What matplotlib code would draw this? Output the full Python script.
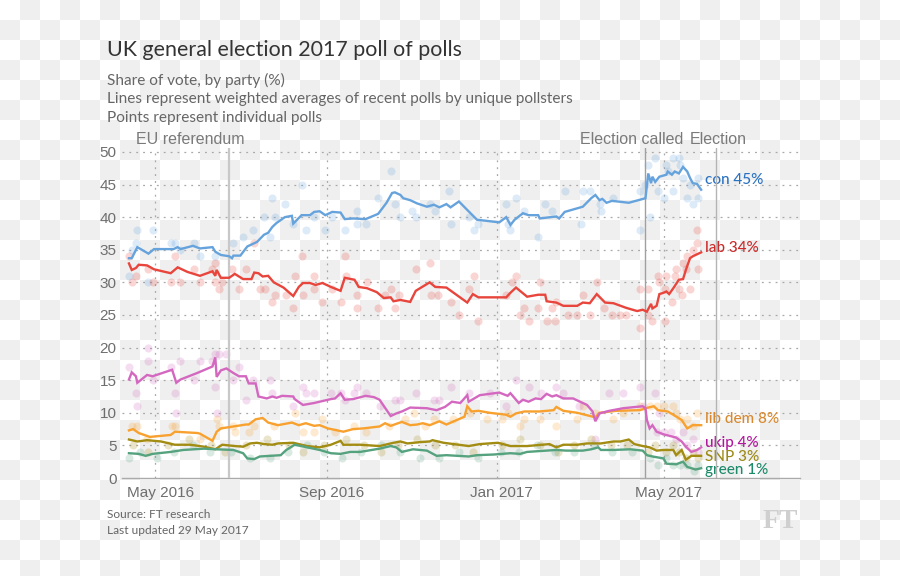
import numpy as np
import pandas as pd
import matplotlib
matplotlib.use("Agg")
import matplotlib.pyplot as plt
import matplotlib.transforms as mtransforms

# --- 数据: 加权平均线 (日期, 支持率 %) ---
con_dates = ["2016-04-12", "2016-04-14", "2016-04-18", "2016-04-26", "2016-04-30", "2016-05-14", "2016-05-17",
             "2016-05-19", "2016-05-28", "2016-06-02", "2016-06-11", "2016-06-13", "2016-06-17", "2016-06-23",
             "2016-06-25", "2016-06-26", "2016-07-01", "2016-07-06", "2016-07-13", "2016-07-18", "2016-07-21",
             "2016-07-24", "2016-07-27", "2016-08-02", "2016-08-07", "2016-08-08", "2016-08-14", "2016-08-20",
             "2016-08-23", "2016-08-27", "2016-08-31", "2016-09-05", "2016-09-11", "2016-09-14", "2016-09-20",
             "2016-09-29", "2016-10-08", "2016-10-14", "2016-10-18", "2016-10-20", "2016-10-24", "2016-10-26",
             "2016-10-31", "2016-11-05", "2016-11-12", "2016-11-17", "2016-11-21", "2016-11-26", "2016-11-29",
             "2016-12-05", "2016-12-11", "2016-12-18", "2017-01-03", "2017-01-08", "2017-01-11", "2017-01-14",
             "2017-01-20", "2017-01-24", "2017-01-31", "2017-02-01", "2017-02-13", "2017-02-15", "2017-02-19",
             "2017-03-04", "2017-03-10", "2017-03-13", "2017-03-16", "2017-03-18", "2017-03-21", "2017-03-25",
             "2017-04-06", "2017-04-18", "2017-04-20", "2017-04-22", "2017-04-23", "2017-04-25", "2017-04-28",
             "2017-05-03", "2017-05-04", "2017-05-07", "2017-05-09", "2017-05-12", "2017-05-15", "2017-05-18",
             "2017-05-20", "2017-05-22", "2017-05-25", "2017-05-28"]
con_avg = [33.7, 33.7, 35.4, 34.4, 35.1, 35.1, 35.4, 35.1, 35.6, 35.2, 35.4, 34.7, 34.2, 34.0, 33.7, 34.1, 34.1,
           35.5, 36.2, 37.3, 37.6, 38.5, 39.1, 40.0, 40.2, 39.0, 40.3, 40.3, 40.8, 40.9, 40.3, 40.8, 40.7, 39.7,
           39.8, 39.7, 40.5, 42.2, 43.7, 43.8, 43.4, 42.9, 42.6, 42.1, 41.6, 41.9, 41.5, 42.0, 41.5, 42.4, 41.1,
           39.6, 39.2, 40.0, 38.8, 39.6, 40.6, 40.3, 40.3, 39.8, 40.1, 39.8, 40.8, 41.6, 42.9, 43.4, 42.6, 42.8,
           42.2, 42.5, 42.2, 42.9, 46.7, 45.2, 46.2, 45.4, 46.2, 46.5, 47.0, 46.5, 47.0, 46.7, 47.7, 47.0, 46.0,
           45.2, 45.1, 44.2]

lab_dates = ["2016-04-12", "2016-04-14", "2016-04-17", "2016-04-19", "2016-04-25", "2016-04-30", "2016-05-12",
             "2016-05-17", "2016-05-24", "2016-06-02", "2016-06-11", "2016-06-13", "2016-06-14", "2016-06-17",
             "2016-06-23", "2016-06-27", "2016-07-03", "2016-07-09", "2016-07-11", "2016-07-14", "2016-07-17",
             "2016-07-21", "2016-07-25", "2016-08-01", "2016-08-08", "2016-08-12", "2016-08-15", "2016-08-20",
             "2016-08-24", "2016-08-29", "2016-09-04", "2016-09-11", "2016-09-14", "2016-09-21", "2016-09-24",
             "2016-09-30", "2016-10-07", "2016-10-12", "2016-10-17", "2016-10-19", "2016-10-24", "2016-10-31",
             "2016-11-04", "2016-11-14", "2016-11-18", "2016-11-26", "2016-12-11", "2016-12-15", "2016-12-19",
             "2017-01-08", "2017-01-11", "2017-01-15", "2017-01-23", "2017-01-31", "2017-02-05", "2017-02-06",
             "2017-02-13", "2017-02-18", "2017-02-28", "2017-03-04", "2017-03-09", "2017-03-14", "2017-03-20",
             "2017-03-26", "2017-04-04", "2017-04-12", "2017-04-16", "2017-04-19", "2017-04-22", "2017-04-23",
             "2017-04-26", "2017-04-28", "2017-05-01", "2017-05-03", "2017-05-05", "2017-05-08", "2017-05-12",
             "2017-05-15", "2017-05-17", "2017-05-20", "2017-05-22", "2017-05-28"]
lab_avg = [32.9, 31.9, 32.2, 32.7, 32.6, 32.0, 31.4, 32.3, 31.6, 31.0, 31.7, 31.0, 31.9, 30.7, 30.7, 31.3, 30.5,
           30.5, 31.5, 31.4, 30.9, 31.0, 30.0, 29.2, 27.9, 29.3, 29.9, 29.9, 29.6, 29.9, 29.3, 28.7, 30.7, 30.4,
           29.3, 29.1, 28.5, 27.6, 27.7, 27.1, 27.3, 27.0, 28.7, 30.0, 29.3, 29.2, 26.9, 28.2, 27.7, 27.7, 28.4,
           29.2, 27.8, 28.1, 28.1, 27.1, 26.9, 26.4, 26.4, 26.9, 26.8, 28.2, 26.9, 26.8, 26.1, 25.6, 25.8, 25.5,
           26.7, 26.0, 26.4, 28.2, 28.4, 28.6, 28.2, 29.1, 30.4, 30.5, 31.9, 33.7, 34.0, 34.6]

ukip_dates = ["2016-04-12", "2016-04-14", "2016-04-17", "2016-04-18", "2016-04-25", "2016-04-29", "2016-05-13",
              "2016-05-16", "2016-05-19", "2016-05-31", "2016-06-11", "2016-06-13", "2016-06-14", "2016-06-17",
              "2016-06-21", "2016-06-26", "2016-06-30", "2016-07-05", "2016-07-07", "2016-07-12", "2016-07-14",
              "2016-07-20", "2016-07-24", "2016-07-27", "2016-07-31", "2016-08-08", "2016-08-09", "2016-08-15",
              "2016-08-23", "2016-08-27", "2016-09-04", "2016-09-07", "2016-09-11", "2016-09-14", "2016-09-20",
              "2016-09-29", "2016-10-05", "2016-10-09", "2016-10-17", "2016-10-21", "2016-10-25", "2016-10-31",
              "2016-11-12", "2016-11-19", "2016-11-25", "2016-11-30", "2016-12-06", "2016-12-11", "2016-12-12",
              "2016-12-20", "2017-01-03", "2017-01-09", "2017-01-11", "2017-01-17", "2017-01-20", "2017-01-24",
              "2017-01-29", "2017-02-02", "2017-02-06", "2017-02-10", "2017-02-13", "2017-02-18", "2017-02-25",
              "2017-03-07", "2017-03-11", "2017-03-13", "2017-03-16", "2017-03-23", "2017-04-02", "2017-04-16",
              "2017-04-18", "2017-04-19", "2017-04-21", "2017-04-23", "2017-04-26", "2017-05-01", "2017-05-10",
              "2017-05-14", "2017-05-17", "2017-05-21", "2017-05-25", "2017-05-28"]
ukip_avg = [15.1, 16.2, 15.6, 14.6, 15.8, 15.6, 16.6, 14.6, 15.1, 16.1, 17.1, 18.5, 15.5, 16.5, 16.8, 16.1, 15.6,
            15.6, 14.5, 14.5, 12.5, 12.2, 12.5, 12.3, 12.6, 12.5, 12.1, 11.2, 11.5, 11.7, 12.1, 12.2, 13.0, 12.0,
            12.1, 12.6, 12.4, 12.0, 9.5, 9.9, 10.2, 10.8, 10.7, 10.4, 10.9, 11.7, 11.5, 12.7, 11.7, 12.7, 13.1,
            12.6, 13.0, 11.5, 12.0, 11.7, 12.2, 12.1, 12.9, 12.5, 12.7, 12.2, 12.2, 11.2, 10.2, 8.7, 9.9, 10.3,
            10.7, 11.0, 10.7, 8.9, 7.6, 8.1, 7.1, 6.7, 6.2, 5.6, 4.8, 4.0, 4.3, 4.7]

libdem_dates = ["2016-04-12", "2016-04-15", "2016-04-19", "2016-04-27", "2016-05-12", "2016-05-15", "2016-05-31",
                "2016-06-02", "2016-06-11", "2016-06-14", "2016-06-17", "2016-06-26", "2016-07-05", "2016-07-07",
                "2016-07-12", "2016-07-17", "2016-07-21", "2016-07-28", "2016-08-07", "2016-08-12", "2016-08-17",
                "2016-08-23", "2016-08-27", "2016-09-02", "2016-09-13", "2016-09-20", "2016-09-27", "2016-10-09",
                "2016-10-13", "2016-10-17", "2016-10-25", "2016-10-31", "2016-11-05", "2016-11-09", "2016-11-14",
                "2016-11-21", "2016-11-26", "2016-12-09", "2016-12-11", "2016-12-14", "2016-12-19", "2016-12-27",
                "2017-01-08", "2017-01-11", "2017-01-15", "2017-01-21", "2017-02-01", "2017-02-11", "2017-02-13",
                "2017-02-18", "2017-02-28", "2017-03-13", "2017-03-16", "2017-03-28", "2017-04-14", "2017-04-20",
                "2017-04-24", "2017-04-27", "2017-05-04", "2017-05-08", "2017-05-14", "2017-05-18", "2017-05-22",
                "2017-05-28"]
libdem_avg = [7.3, 7.5, 6.9, 6.3, 6.6, 7.1, 6.9, 6.8, 5.7, 7.1, 7.6, 7.9, 8.2, 8.2, 9.0, 9.2, 8.5, 8.1, 8.5, 8.1,
              8.4, 8.0, 8.1, 7.6, 7.1, 7.5, 7.6, 7.9, 8.4, 8.0, 8.6, 8.1, 8.2, 8.4, 8.1, 8.7, 8.2, 9.4, 11.0, 10.2,
              10.3, 10.0, 9.7, 9.4, 9.9, 10.2, 10.2, 10.4, 10.9, 10.3, 10.0, 9.3, 10.0, 10.3, 10.4, 10.8, 11.0,
              10.4, 10.2, 9.7, 8.9, 7.6, 8.1, 8.1]

snp_dates = ["2016-04-12", "2016-04-18", "2016-04-25", "2016-05-05", "2016-05-15", "2016-05-26", "2016-06-05",
             "2016-06-13", "2016-06-18", "2016-06-27", "2016-07-03", "2016-07-08", "2016-07-13", "2016-07-18",
             "2016-07-24", "2016-07-28", "2016-08-08", "2016-08-18", "2016-08-27", "2016-09-04", "2016-09-11",
             "2016-09-13", "2016-09-25", "2016-10-09", "2016-10-19", "2016-10-24", "2016-10-29", "2016-11-07",
             "2016-11-14", "2016-11-16", "2016-11-24", "2016-12-12", "2016-12-20", "2017-01-02", "2017-01-11",
             "2017-01-23", "2017-02-08", "2017-02-13", "2017-02-18", "2017-02-28", "2017-03-07", "2017-03-17",
             "2017-03-26", "2017-03-31", "2017-04-06", "2017-04-10", "2017-04-16", "2017-04-21", "2017-04-26",
             "2017-05-01", "2017-05-08", "2017-05-10", "2017-05-14", "2017-05-17", "2017-05-21", "2017-05-28"]
snp_avg = [5.9, 5.6, 5.8, 5.6, 5.1, 5.1, 4.8, 4.4, 5.1, 4.9, 4.8, 5.3, 5.4, 5.2, 5.1, 5.3, 5.4, 4.9, 4.7, 5.1,
           5.7, 5.1, 5.1, 4.9, 5.4, 5.6, 5.3, 5.5, 5.6, 5.8, 5.4, 4.9, 5.2, 5.4, 4.9, 4.9, 5.2, 4.7, 5.1, 5.1,
           5.3, 5.3, 5.6, 5.6, 5.9, 5.2, 4.9, 4.7, 4.2, 4.3, 4.3, 3.5, 4.3, 2.8, 3.4, 3.4]

green_dates = ["2016-04-12", "2016-04-19", "2016-04-24", "2016-04-29", "2016-05-12", "2016-05-21", "2016-06-05",
               "2016-06-14", "2016-06-26", "2016-07-03", "2016-07-06", "2016-07-11", "2016-07-15", "2016-07-30",
               "2016-08-03", "2016-08-09", "2016-08-18", "2016-08-27", "2016-09-04", "2016-09-11", "2016-09-18",
               "2016-09-25", "2016-10-09", "2016-10-17", "2016-10-21", "2016-10-25", "2016-11-02", "2016-11-07",
               "2016-11-12", "2016-11-19", "2016-11-26", "2016-12-12", "2016-12-18", "2016-12-30", "2017-01-11",
               "2017-01-18", "2017-01-23", "2017-02-06", "2017-02-13", "2017-02-20", "2017-03-04", "2017-03-10",
               "2017-03-15", "2017-03-17", "2017-03-26", "2017-04-07", "2017-04-16", "2017-04-19", "2017-04-23",
               "2017-05-01", "2017-05-03", "2017-05-10", "2017-05-15", "2017-05-18", "2017-05-24", "2017-05-28"]
green_avg = [3.8, 3.7, 3.4, 3.7, 4.0, 4.3, 4.5, 4.4, 4.3, 3.8, 3.0, 2.9, 3.3, 3.5, 4.3, 5.1, 4.7, 4.3, 3.8, 3.7,
             4.0, 4.0, 4.5, 4.9, 4.7, 4.0, 4.4, 4.3, 4.2, 3.4, 3.5, 3.3, 3.5, 3.6, 3.8, 3.7, 4.0, 4.2, 4.3, 4.2,
             4.2, 4.4, 4.7, 4.3, 4.3, 4.4, 4.2, 3.5, 3.3, 3.0, 2.2, 2.1, 2.5, 1.7, 1.3, 1.5]

# --- 数据: 单个民调 (点) ---
con_poll_dates = ["2016-04-12", "2016-04-14", "2016-04-18", "2016-04-17", "2016-04-29", "2016-04-26", "2016-05-12",
                  "2016-05-15", "2016-05-19", "2016-05-29", "2016-06-02", "2016-06-13", "2016-06-26", "2016-07-03",
                  "2016-07-10", "2016-07-18", "2016-07-22", "2016-07-24", "2016-07-26", "2016-08-02", "2016-08-08",
                  "2016-08-14", "2016-08-17", "2016-08-23", "2016-08-31", "2016-09-05", "2016-09-14", "2016-09-23",
                  "2016-09-23", "2016-09-29", "2016-10-08", "2016-10-17", "2016-10-20", "2016-10-24", "2016-11-01",
                  "2016-11-04", "2016-11-14", "2016-11-18", "2016-11-28", "2016-11-29", "2016-12-12", "2016-12-16",
                  "2016-12-19", "2017-01-08", "2017-01-09", "2017-01-11", "2017-01-15", "2017-01-21", "2017-01-31",
                  "2017-02-05", "2017-02-10", "2017-02-19", "2017-03-03", "2017-03-04", "2017-03-09", "2017-03-16",
                  "2017-03-17", "2017-03-26", "2017-04-14", "2017-04-14", "2017-04-18", "2017-04-20", "2017-04-21",
                  "2017-04-25", "2017-04-27", "2017-05-01", "2017-05-03", "2017-05-04", "2017-05-08", "2017-05-08",
                  "2017-05-12", "2017-05-13", "2017-05-15", "2017-05-18", "2017-05-20", "2017-05-22", "2017-05-26",
                  "2017-05-26"]
con_polls = [31, 35, 38, 36, 38, 30, 36, 36, 35, 36, 34, 34, 36, 37, 38, 40, 37, 43, 40, 42, 39, 45, 38, 40, 38,
             40, 38, 41, 39, 39, 43, 47, 42, 40, 41, 40, 42, 41, 44, 39, 40, 38, 39, 42, 39, 38, 43, 41, 37, 42,
             41, 44, 39, 44, 44, 42, 41, 43, 44, 38, 45, 48, 40, 49, 44, 43, 48, 47, 49, 44, 49, 48, 46, 43, 45,
             42, 43, 46]

lab_poll_dates = ["2016-04-12", "2016-04-14", "2016-04-17", "2016-04-26", "2016-04-29", "2016-05-12", "2016-05-15",
                  "2016-05-19", "2016-05-29", "2016-06-02", "2016-06-11", "2016-06-13", "2016-06-13", "2016-06-16",
                  "2016-06-18", "2016-06-25", "2016-06-30", "2016-07-05", "2016-07-11", "2016-07-15", "2016-07-19",
                  "2016-07-24", "2016-07-26", "2016-08-03", "2016-08-08", "2016-08-09", "2016-08-14", "2016-08-15",
                  "2016-08-23", "2016-08-23", "2016-08-29", "2016-09-05", "2016-09-11", "2016-09-14", "2016-09-15",
                  "2016-09-23", "2016-09-23", "2016-09-30", "2016-10-08", "2016-10-13", "2016-10-17", "2016-10-20",
                  "2016-10-23", "2016-11-04", "2016-11-14", "2016-11-15", "2016-11-20", "2016-11-29", "2016-12-05",
                  "2016-12-12", "2016-12-16", "2016-12-19", "2017-01-08", "2017-01-12", "2017-01-15", "2017-01-18",
                  "2017-01-21", "2017-01-24", "2017-01-31", "2017-02-01", "2017-02-06", "2017-02-10", "2017-02-12",
                  "2017-02-13", "2017-02-21", "2017-02-28", "2017-03-04", "2017-03-09", "2017-03-14", "2017-03-19",
                  "2017-03-25", "2017-03-31", "2017-04-04", "2017-04-14", "2017-04-14", "2017-04-20", "2017-04-20",
                  "2017-04-23", "2017-04-27", "2017-04-28", "2017-05-02", "2017-05-02", "2017-05-03", "2017-05-07",
                  "2017-05-09", "2017-05-10", "2017-05-12", "2017-05-14", "2017-05-15", "2017-05-17", "2017-05-18",
                  "2017-05-20", "2017-05-22", "2017-05-25", "2017-05-25", "2017-05-26"]
lab_polls = [34, 30, 31, 32, 30, 30, 34, 30, 32, 30, 32, 33, 30, 29, 30, 32, 29, 32, 36, 29, 29, 27, 28, 28, 26,
             31, 34, 28, 31, 29, 27, 29, 27, 34, 31, 28, 26, 30, 26, 28, 29, 26, 28, 32, 33, 28, 28, 27, 25, 29,
             31, 24, 28, 30, 31, 25, 26, 24, 26, 30, 24, 26, 24, 27, 25, 25, 28, 25, 30, 26, 25, 25, 25, 29, 23,
             29, 25, 24, 31, 30, 29, 24, 31, 27, 31, 32, 29, 28, 33, 32, 34, 29, 35, 36, 38, 32]

ukip_poll_dates = ["2016-04-12", "2016-04-18", "2016-04-17", "2016-04-26", "2016-04-26", "2016-04-29", "2016-05-12",
                   "2016-05-15", "2016-05-16", "2016-05-19", "2016-05-29", "2016-06-02", "2016-06-11", "2016-06-13",
                   "2016-06-13", "2016-06-14", "2016-06-16", "2016-06-21", "2016-06-26", "2016-06-30", "2016-07-05",
                   "2016-07-10", "2016-07-22", "2016-07-24", "2016-08-08", "2016-08-15", "2016-08-17", "2016-08-23",
                   "2016-09-04", "2016-09-11", "2016-09-14", "2016-09-21", "2016-09-23", "2016-09-29", "2016-10-09",
                   "2016-10-20", "2016-10-24", "2016-11-04", "2016-11-17", "2016-11-21", "2016-11-29", "2016-12-12",
                   "2016-12-27", "2017-01-08", "2017-01-15", "2017-01-24", "2017-02-02", "2017-02-13", "2017-02-18",
                   "2017-03-01", "2017-03-13", "2017-03-23", "2017-04-02", "2017-04-14", "2017-04-16", "2017-04-25",
                   "2017-04-28", "2017-04-26", "2017-05-01", "2017-05-06", "2017-05-10", "2017-05-15", "2017-05-18",
                   "2017-05-22", "2017-05-26"]
ukip_polls = [17, 11, 13, 18, 20, 15, 17, 13, 10, 18, 15, 18, 18, 19, 14, 10, 19, 19, 15, 17, 12, 15, 15, 13, 11,
              14, 13, 13, 13, 13, 12, 13, 14, 13, 11, 12, 12, 13, 12, 12, 14, 13, 13, 11, 15, 14, 13, 14, 13, 11,
              6, 13, 13, 14, 11, 13, 10, 7, 7, 7, 6, 7, 5, 6, 4]

libdem_poll_dates = ["2016-04-14", "2016-04-18", "2016-04-25", "2016-05-13", "2016-05-15", "2016-06-02", "2016-06-14",
                     "2016-06-16", "2016-06-26", "2016-06-27", "2016-07-07", "2016-07-11", "2016-07-25", "2016-08-09",
                     "2016-08-15", "2016-08-23", "2016-08-29", "2016-09-07", "2016-09-21", "2016-09-29", "2016-10-16",
                     "2016-10-27", "2016-11-03", "2016-11-11", "2016-11-17", "2016-12-01", "2016-12-13", "2016-12-25",
                     "2017-01-05", "2017-01-09", "2017-01-18", "2017-01-21", "2017-02-01", "2017-02-13", "2017-02-28",
                     "2017-03-04", "2017-03-13", "2017-03-26", "2017-04-02", "2017-04-14", "2017-04-21", "2017-04-26",
                     "2017-05-01", "2017-05-08", "2017-05-10", "2017-05-13", "2017-05-18", "2017-05-22", "2017-05-25"]
libdem_polls = [8, 8, 6, 8, 8, 6, 9, 8, 8, 7, 7, 8, 8, 10, 7, 7, 9, 7, 8, 7, 8, 9, 10, 8, 9, 9, 10, 9, 9, 10, 8, 9,
                9, 8, 9, 11, 10, 9, 10, 11, 11, 11, 11, 11, 10, 9, 9, 8, 10]

snp_poll_dates = ["2016-04-15", "2016-04-26", "2016-05-10", "2016-05-25", "2016-06-10", "2016-06-20", "2016-07-05",
                  "2016-07-20", "2016-08-05", "2016-08-15", "2016-08-30", "2016-09-15", "2016-09-28", "2016-10-10",
                  "2016-10-22", "2016-11-05", "2016-11-18", "2016-12-02", "2016-12-15", "2017-01-05", "2017-01-18",
                  "2017-02-01", "2017-02-14", "2017-02-26", "2017-03-10", "2017-03-24", "2017-04-05", "2017-04-20",
                  "2017-04-25", "2017-05-03", "2017-05-08", "2017-05-12", "2017-05-17", "2017-05-22", "2017-05-26"]
snp_polls = [5, 4, 5, 6, 5, 4, 5, 6, 5, 4, 5, 6, 5, 4, 5, 6, 5, 5, 4, 5, 6, 5, 4, 5, 6, 5, 5, 4, 5, 4, 5, 4, 3,
             4, 3]

green_poll_dates = ["2016-04-12", "2016-04-20", "2016-05-02", "2016-05-14", "2016-05-28", "2016-06-09", "2016-06-24",
                    "2016-07-08", "2016-07-22", "2016-08-04", "2016-08-18", "2016-08-30", "2016-09-12", "2016-09-26",
                    "2016-10-10", "2016-10-24", "2016-11-07", "2016-11-21", "2016-12-05", "2016-12-19", "2017-01-04",
                    "2017-01-17", "2017-01-30", "2017-02-12", "2017-02-26", "2017-03-12", "2017-03-25", "2017-04-08",
                    "2017-04-21", "2017-04-27", "2017-05-03", "2017-05-08", "2017-05-13", "2017-05-18", "2017-05-23",
                    "2017-05-26"]
green_polls = [3, 4, 3, 4, 5, 4, 4, 3, 3, 4, 5, 4, 3, 4, 5, 4, 3, 3, 4, 3, 4, 4, 5, 4, 4, 5, 4, 4, 3, 2, 3, 2, 2,
               2, 1, 2]

party_names = ["con", "lab", "lib dem", "ukip", "SNP", "green"]
latest_share = [45, 34, 8, 4, 3, 1]

events = ["EU referendum", "Election called", "Election"]
event_dates = ["2016-06-23", "2017-04-18", "2017-06-08"]

month_ticks = ["2016-05-01", "2016-09-01", "2017-01-01", "2017-05-01"]
month_labels = ["May 2016", "Sep 2016", "Jan 2017", "May 2017"]

# --- 样式 ---
line_colors = ["#66a3dd", "#e8453c", "#f8a12e", "#d468c0", "#a38c12", "#55a27e"]
label_colors = ["#2a72c2", "#cc2a2a", "#d8892f", "#b3169e", "#9c8a16", "#1d8a6a"]
label_y = [45.7, 35.3, 9.0, 5.4, 3.2, 1.3]          # 右侧标签的纵向位置 (避免重叠)
event_offsets = [-28, -10, 1]                        # 事件标签相对竖线的水平偏移 (pt)
event_colors = ["#c8c8c8", "#a0a0a0", "#b4b4b4"]
event_widths = [1.6, 1.0, 1.0]


def checkerboard(width, height, cell=20):
    # 参考图里的透明背景棋盘格
    rows = int(np.ceil(height / cell))
    cols = int(np.ceil(width / cell))
    r, c = np.indices((rows, cols))
    return ((r + c) % 2).astype(float)


def main():
    fig = plt.figure(figsize=(9, 5.76), dpi=100)

    # 背景
    bg = fig.add_axes([0, 0, 1, 1], zorder=-10)
    board = checkerboard(900, 576)
    bg.imshow(board, cmap=matplotlib.colors.ListedColormap(["#ffffff", "#efefef"]),
              extent=(0, board.shape[1] * 20, board.shape[0] * 20, 0), interpolation="nearest", aspect="auto")
    bg.set_xlim(0, 900)
    bg.set_ylim(576, 0)
    bg.axis("off")

    ax = fig.add_axes([122 / 900, 98 / 576, 678 / 900, 330 / 576])
    ax.patch.set_alpha(0)

    series = [
        (con_dates, con_avg, con_poll_dates, con_polls),
        (lab_dates, lab_avg, lab_poll_dates, lab_polls),
        (libdem_dates, libdem_avg, libdem_poll_dates, libdem_polls),
        (ukip_dates, ukip_avg, ukip_poll_dates, ukip_polls),
        (snp_dates, snp_avg, snp_poll_dates, snp_polls),
        (green_dates, green_avg, green_poll_dates, green_polls),
    ]

    # 单个民调点
    for i, (_, _, pd_dates, pvals) in enumerate(series):
        ax.scatter(pd.to_datetime(pd_dates), pvals, s=34, color=line_colors[i], alpha=0.22,
                   linewidths=0, zorder=2)

    # 加权平均线 + 右侧标签
    for i, (dates, vals, _, _) in enumerate(series):
        d = pd.to_datetime(dates)
        ax.plot(d, vals, color=line_colors[i], lw=1.7, zorder=4, solid_joinstyle="miter")
        ax.annotate(f"{party_names[i]} {latest_share[i]}%", xy=(d[-1], label_y[i]),
                    xytext=(3, 0), textcoords="offset points", va="center", ha="left",
                    fontsize=11, color=label_colors[i], family="Lato", weight="medium",
                    annotation_clip=False)

    # 事件竖线
    for i, ev in enumerate(events):
        ed = pd.Timestamp(event_dates[i])
        ax.axvline(ed, color=event_colors[i], lw=event_widths[i], zorder=3)
        ax.annotate(ev, xy=(ed, 50.6), xytext=(event_offsets[i], 1), textcoords="offset points",
                    ha="center", va="bottom", fontsize=11.5, color="#7a7a7a",
                    family="Liberation Sans", annotation_clip=False)

    # 坐标轴
    ax.set_xlim(pd.Timestamp("2016-04-07"), pd.Timestamp("2017-08-07"))
    ax.set_ylim(0, 50.6)
    ax.set_yticks(np.arange(0, 51, 5))
    ax.set_xticks(pd.to_datetime(month_ticks))
    ax.set_xticklabels(month_labels)
    ax.tick_params(axis="both", length=0, labelsize=11, labelcolor="#6e6e6e")
    ax.tick_params(axis="y", pad=4)
    ax.tick_params(axis="x", pad=6)
    for lab in ax.get_xticklabels() + ax.get_yticklabels():
        lab.set_family("Liberation Sans")
    shift = mtransforms.ScaledTranslation(5 / 100, 0, fig.dpi_scale_trans)
    for lab in ax.get_xticklabels():
        lab.set_transform(lab.get_transform() + shift)

    for y in range(5, 51, 5):
        ax.axhline(y, color="#a8a8a8", lw=0.9, ls=(0, (1.5, 4)), zorder=1)
    for t in pd.to_datetime(month_ticks):
        ax.axvline(t, color="#a8a8a8", lw=0.9, ls=(0, (1.5, 4)), zorder=1)

    for side in ["top", "right", "left"]:
        ax.spines[side].set_visible(False)
    ax.spines["bottom"].set_color("#aaaaaa")
    ax.spines["bottom"].set_linewidth(1.0)

    # 标题与注释
    fig.text(107 / 900, 1 - 50 / 576, "UK general election 2017 poll of polls", fontsize=15.4,
             color="#333333", family="Lato", va="center", ha="left")
    subtitle = ["Share of vote, by party (%)",
                "Lines represent weighted averages of recent polls by unique pollsters",
                "Points represent individual polls"]
    for k, line in enumerate(subtitle):
        fig.text(107 / 900, 1 - (80 + 19 * k) / 576, line, fontsize=11.1, color="#666666",
                 family="Lato", va="center", ha="left")
    fig.text(107 / 900, 1 - 514 / 576, "Source: FT research", fontsize=8.6, color="#666666",
             family="Lato", va="center", ha="left")
    fig.text(107 / 900, 1 - 530 / 576, "Last updated 29 May 2017", fontsize=8.6, color="#666666",
             family="Lato", va="center", ha="left")
    fig.text(780 / 900, 1 - 522 / 576, "FT", fontsize=20, color="#cfcfcf", family="Liberation Serif",
             weight="bold", va="center", ha="center")

    fig.savefig("out.png", dpi=100)


if __name__ == "__main__":
    main()
